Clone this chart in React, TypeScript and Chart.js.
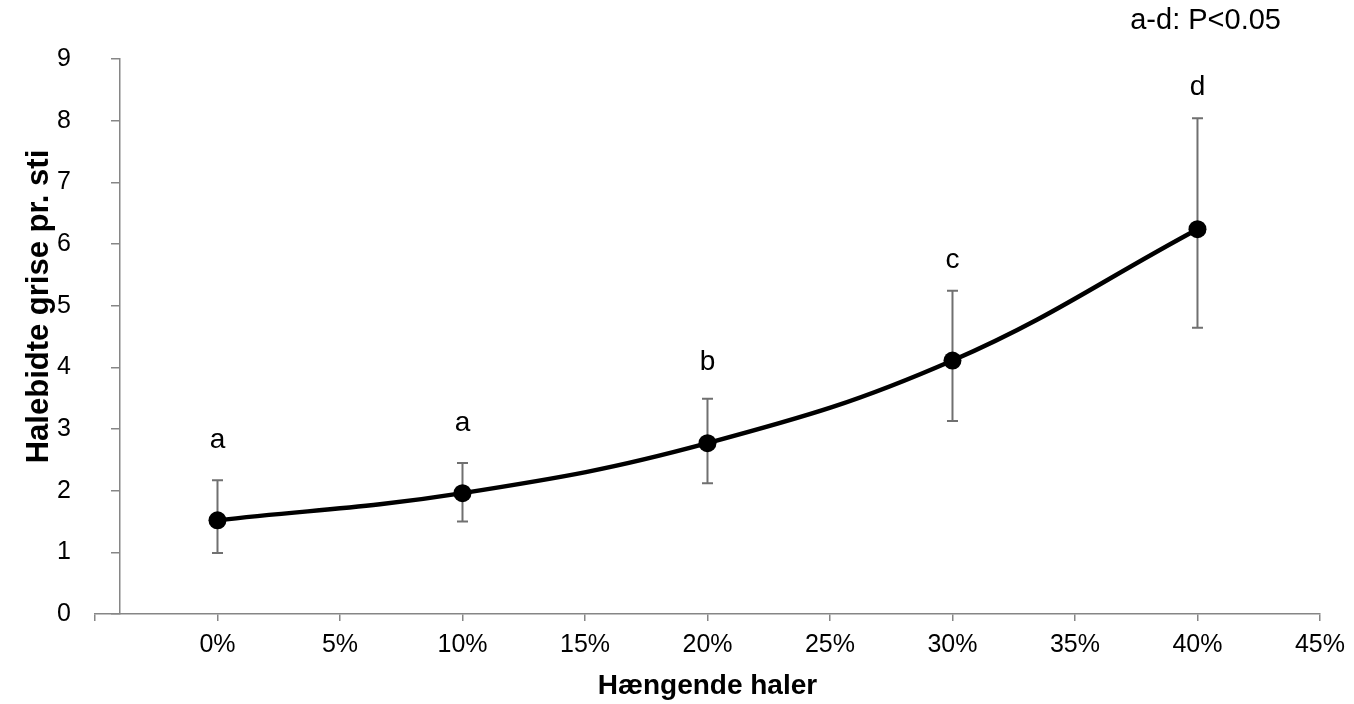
import React, { useEffect, useRef } from "react";
import { Chart, registerables } from "chart.js";

Chart.register(...registerables);

// Data
const hangingTailsPct = [0, 10, 20, 30, 40];
const bittenPigsPerPen = [1.52, 1.96, 2.77, 4.11, 6.24];
const errorUpper = [2.17, 2.45, 3.49, 5.24, 8.04];
const errorLower = [0.99, 1.5, 2.12, 3.13, 4.64];
const sigLetters = ["a", "a", "b", "c", "d"];
const sigLetterY = [2.69, 2.96, 3.96, 5.61, 8.42];

const xMin = -5;
const xMax = 45;
const xStep = 5;
const yMin = 0;
const yMax = 9;
const yStep = 1;
const yAxisCrossAt = -4;

const xTitle = "Hængende haler";
const yTitle = "Halebidte grise pr. sti";
const noteText = "a-d: P<0.05";

const FONT = "'Liberation Sans', Arial, sans-serif";
const AXIS_GRAY = "#868686";

const annotPlugin = {
  id: "annot",
  beforeDatasetsDraw(chart: any) {
    const { ctx, scales } = chart;
    const x = scales.x;
    const y = scales.y;
    ctx.save();
    ctx.strokeStyle = "#707070";
    ctx.lineWidth = 2;
    hangingTailsPct.forEach((v, i) => {
      const px = x.getPixelForValue(v);
      const top = y.getPixelForValue(errorUpper[i]);
      const bot = y.getPixelForValue(errorLower[i]);
      ctx.beginPath();
      ctx.moveTo(px, top);
      ctx.lineTo(px, bot);
      ctx.moveTo(px - 5.5, top);
      ctx.lineTo(px + 5.5, top);
      ctx.moveTo(px - 5.5, bot);
      ctx.lineTo(px + 5.5, bot);
      ctx.stroke();
    });
    ctx.restore();
  },
  afterDatasetsDraw(chart: any) {
    const { ctx, scales } = chart;
    const x = scales.x;
    const y = scales.y;
    ctx.save();
    ctx.fillStyle = "#000";
    ctx.font = `28px ${FONT}`;
    ctx.textAlign = "center";
    ctx.textBaseline = "alphabetic";
    hangingTailsPct.forEach((v, i) => {
      ctx.fillText(sigLetters[i], x.getPixelForValue(v), y.getPixelForValue(sigLetterY[i]));
    });
    ctx.restore();
  },
  afterDraw(chart: any) {
    const { ctx, chartArea } = chart;
    ctx.save();
    ctx.fillStyle = "#000";
    // y-axis title
    ctx.font = `bold 31px ${FONT}`;
    ctx.textAlign = "center";
    ctx.textBaseline = "middle";
    ctx.translate(39, (chartArea.top + chartArea.bottom) / 2 - 30);
    ctx.rotate(-Math.PI / 2);
    ctx.fillText(yTitle, 0, 0);
    ctx.restore();
    // significance note
    ctx.save();
    ctx.fillStyle = "#000";
    ctx.font = `29px ${FONT}`;
    ctx.textAlign = "right";
    ctx.textBaseline = "alphabetic";
    ctx.fillText(noteText, chartArea.right - 39, 29);
    ctx.restore();
  },
};

export default function App() {
  const canvasRef = useRef<HTMLCanvasElement | null>(null);

  useEffect(() => {
    if (!canvasRef.current) return;
    const chart = new Chart(canvasRef.current, {
      type: "line",
      data: {
        datasets: [
          {
            data: hangingTailsPct.map((v, i) => ({ x: v, y: bittenPigsPerPen[i] })),
            borderColor: "#000",
            backgroundColor: "#000",
            borderWidth: 4.5,
            tension: 0.4,
            pointRadius: 9,
            pointHoverRadius: 9,
            pointBackgroundColor: "#000",
            pointBorderWidth: 0,
            yAxisID: "y",
          },
        ],
      },
      options: {
        responsive: false,
        animation: false,
        events: [],
        layout: { padding: { left: 0, right: 32, top: 59, bottom: 0 } },
        plugins: {
          legend: { display: false },
          tooltip: { enabled: false },
        },
        scales: {
          x: {
            type: "linear",
            position: "bottom",
            min: xMin,
            max: xMax,
            afterFit(scale: any) {
              scale.height = 90;
            },
            ticks: {
              stepSize: xStep,
              padding: 9,
              color: "#000",
              font: { family: FONT, size: 25 },
              maxRotation: 0,
              autoSkip: false,
              callback: (v: any) => (Number(v) === xMin ? "" : `${v}%`),
            },
            grid: {
              drawOnChartArea: false,
              drawTicks: true,
              tickLength: 7,
              color: AXIS_GRAY,
              lineWidth: 1.5,
            },
            border: { display: true, color: AXIS_GRAY, width: 1.5 },
            title: {
              display: true,
              text: xTitle,
              color: "#000",
              font: { family: FONT, size: 28, weight: "bold" },
              padding: { top: 0, bottom: 1 },
            },
          },
          y: {
            type: "linear",
            position: "left",
            min: yMin,
            max: yMax,
            afterFit(scale: any) {
              scale.width = 95;
            },
            ticks: {
              stepSize: yStep,
              padding: 24,
              color: "#000",
              font: { family: FONT, size: 25 },
            },
            grid: { display: false, drawTicks: false },
            border: { display: false },
          },
          y2: {
            type: "linear",
            position: { x: yAxisCrossAt } as any,
            min: yMin,
            max: yMax,
            ticks: { stepSize: yStep, display: false },
            grid: {
              drawOnChartArea: false,
              drawTicks: true,
              tickLength: 8,
              color: AXIS_GRAY,
              lineWidth: 1.5,
            },
            border: { display: true, color: AXIS_GRAY, width: 1.5 },
          },
        },
      } as any,
      plugins: [annotPlugin],
    });
    return () => chart.destroy();
  }, []);

  return (
    <div style={{ position: "fixed", left: 0, top: 0, width: 1354, height: 704, background: "#fff" }}>
      <canvas ref={canvasRef} width={1354} height={704} />
    </div>
  );
}
